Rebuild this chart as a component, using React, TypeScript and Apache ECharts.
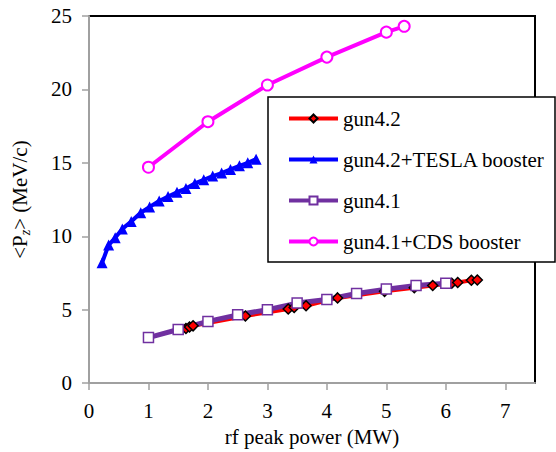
import React, { useEffect, useRef } from "react";
import * as echarts from "echarts";

const seriesNames = ["gun4.2", "gun4.2+TESLA booster", "gun4.1", "gun4.1+CDS booster"];

const gun42: [number, number][] = [
  [1.63, 3.72], [1.69, 3.82], [1.75, 3.9], [2.63, 4.57], [3.35, 5.05], [3.45, 5.15],
  [3.65, 5.27], [4.18, 5.8], [4.97, 6.25], [5.47, 6.5], [5.78, 6.65], [6.1, 6.8],
  [6.2, 6.85], [6.43, 7.0], [6.53, 7.02],
];

const gun42Tesla: [number, number][] = [
  [0.22, 8.2], [0.33, 9.4], [0.44, 9.9], [0.56, 10.5], [0.71, 11.0], [0.87, 11.6],
  [1.02, 12.0], [1.18, 12.4], [1.33, 12.7], [1.48, 13.0], [1.63, 13.25], [1.78, 13.6],
  [1.93, 13.85], [2.08, 14.1], [2.23, 14.3], [2.38, 14.55], [2.53, 14.8], [2.67, 15.0],
  [2.81, 15.25],
];

const gun41: [number, number][] = [
  [1, 3.1], [1.5, 3.65], [2, 4.2], [2.5, 4.65], [3, 5.0], [3.5, 5.45], [4, 5.7],
  [4.5, 6.1], [5, 6.4], [5.5, 6.65], [6, 6.8],
];

const gun41Cds: [number, number][] = [
  [1, 14.7], [2, 17.8], [3, 20.3], [4, 22.2], [5, 23.9], [5.3, 24.3],
];

const xTicks = [0, 1, 2, 3, 4, 5, 6, 7];
const yTicks = [0, 5, 10, 15, 20, 25];

const FONT = "Liberation Serif";
const AXIS_GRAY = "#a0a0a0";

export default function App() {
  const ref = useRef<HTMLDivElement>(null);
  useEffect(() => {
    if (!ref.current) return;
    const chart = echarts.init(ref.current, undefined, { renderer: "svg" });
    const axisCommon = {
      axisLine: { show: true, lineStyle: { color: AXIS_GRAY, width: 2 } },
      axisTick: { show: true, length: 7, lineStyle: { color: AXIS_GRAY, width: 1.5 } },
      splitLine: { show: false },
    };
    const labelStyle = { fontSize: 21, color: "#000", fontFamily: FONT, fontWeight: "normal" as const };
    chart.setOption({
      animation: false,
      backgroundColor: "#fff",
      textStyle: { fontFamily: FONT },
      grid: {
        left: 89, right: 21, top: 16, bottom: 68,
        show: true, borderColor: "#000", borderWidth: 2, backgroundColor: "#fff",
      },
      xAxis: {
        type: "value", min: 0, max: 7.5, interval: 1,
        ...axisCommon,
        axisTick: { ...axisCommon.axisTick, customValues: xTicks },
        axisLabel: { customValues: xTicks, margin: 17, ...labelStyle },
        name: "rf peak power (MW)", nameLocation: "middle", nameGap: 39,
        nameTextStyle: { ...labelStyle },
      },
      yAxis: {
        type: "value", min: 0, max: 25, interval: 5,
        ...axisCommon,
        axisTick: { ...axisCommon.axisTick, customValues: yTicks },
        axisLabel: { customValues: yTicks, margin: 17, ...labelStyle },
        name: "<P{sub|z}> (MeV/c)", nameLocation: "middle", nameGap: 57,
        nameTextStyle: {
          ...labelStyle, lineHeight: 24,
          rich: {
            sub: { fontSize: 14, fontStyle: "italic", lineHeight: 14, verticalAlign: "bottom", color: "#000", fontFamily: FONT },
          },
        },
      },
      legend: {
        orient: "vertical", left: 287, top: 108, padding: 0, itemGap: 20,
        itemWidth: 49, itemHeight: 10, z: 10,
        lineStyle: { width: 4 },
        textStyle: { ...labelStyle },
        data: seriesNames,
      },
      graphic: [
        {
          type: "rect", z: 9, shape: { x: 268, y: 97, width: 287, height: 165 },
          style: { fill: "#fff", stroke: "#000", lineWidth: 1.5 },
        },
      ],
      series: [
        {
          name: seriesNames[0], type: "line", data: gun42, symbol: "diamond", symbolSize: 10, z: 3,
          lineStyle: { color: "#ff0000", width: 4 },
          itemStyle: { color: "#ff0000", borderColor: "#000", borderWidth: 1.5 },
        },
        {
          name: seriesNames[1], type: "line", data: gun42Tesla, symbol: "triangle", symbolSize: 11,
          lineStyle: { color: "#0000ff", width: 4 },
          itemStyle: { color: "#0000ff" },
        },
        {
          name: seriesNames[2], type: "line", data: gun41, symbol: "rect", symbolSize: 10,
          lineStyle: { color: "#7030a0", width: 5 },
          itemStyle: { color: "#fff", borderColor: "#7030a0", borderWidth: 1.5 },
        },
        {
          name: seriesNames[3], type: "line", data: gun41Cds, symbol: "circle", symbolSize: 11,
          lineStyle: { color: "#ff00ff", width: 4 },
          itemStyle: { color: "#fff", borderColor: "#ff00ff", borderWidth: 2 },
        },
      ],
    });
    return () => chart.dispose();
  }, []);
  return <div ref={ref} style={{ width: 556, height: 452, position: "fixed", left: 0, top: 0 }} />;
}
